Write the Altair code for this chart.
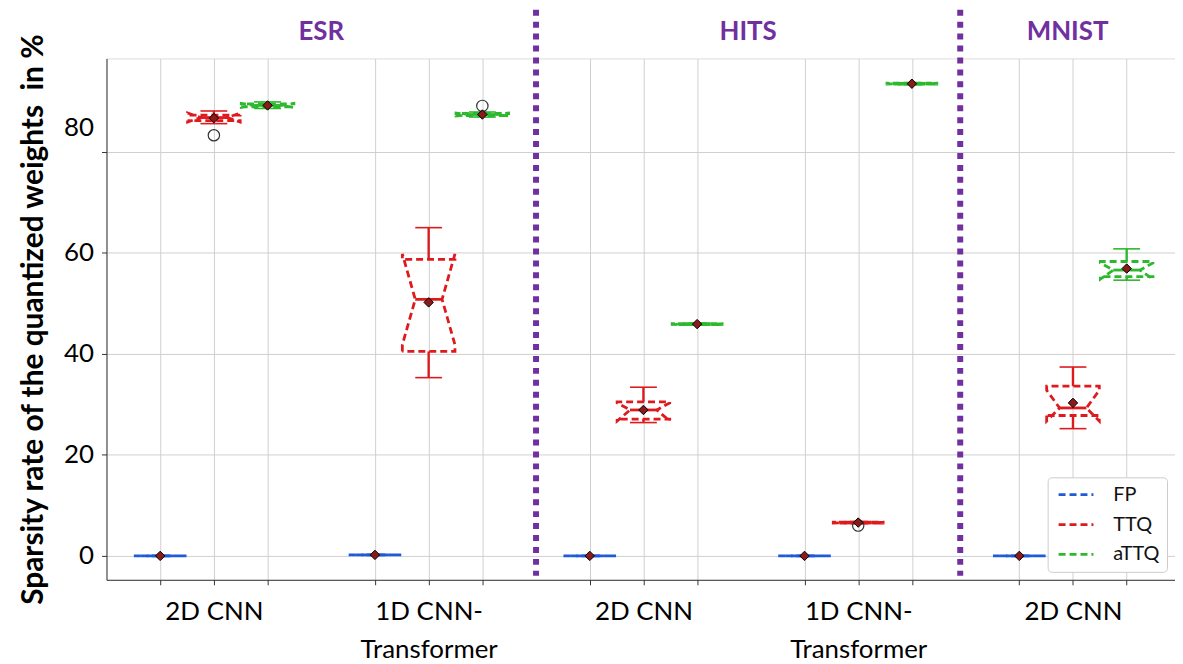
import altair as alt
import pandas as pd

# ---------------- data ----------------
datasets = ["ESR", "HITS", "MNIST"]
group_names = ["2D CNN", "1D CNN-\nTransformer", "2D CNN", "1D CNN-\nTransformer", "2D CNN"]
methods = ["FP", "TTQ", "aTTQ"]
colors = ["#1f5bd8", "#de1a1f", "#2db82d"]

# one entry per box, group-major (5 groups x 3 methods)
box_group = [0, 0, 0, 1, 1, 1, 2, 2, 2, 3, 3, 3, 4, 4, 4]
box_method = ["FP", "TTQ", "aTTQ"] * 5
whislo = [0.0, 85.6, 88.6, 0.2, 35.3, 86.9, 0.0, 26.4, 45.7, 0.0, 6.4, 93.3, 0.0, 25.2, 54.6]
q1 = [0.0, 86.2, 88.9, 0.2, 40.5, 87.2, 0.0, 27.1, 45.8, 0.0, 6.5, 93.4, 0.0, 27.8, 55.3]
notch_lo = [0.0, 85.9, 88.8, 0.2, 41.8, 87.1, 0.0, 26.7, 45.8, 0.0, 6.5, 93.4, 0.0, 26.7, 54.8]
median = [0.0, 86.8, 89.2, 0.2, 50.8, 87.4, 0.0, 28.9, 45.9, 0.0, 6.6, 93.5, 0.0, 29.3, 56.6]
notch_hi = [0.0, 87.7, 89.6, 0.2, 59.8, 87.7, 0.0, 30.3, 46.0, 0.0, 6.7, 93.6, 0.0, 32.8, 58.0]
q3 = [0.0, 87.3, 89.5, 0.2, 58.7, 87.6, 0.0, 30.5, 46.0, 0.0, 6.7, 93.6, 0.0, 33.6, 58.3]
whishi = [0.0, 88.1, 89.9, 0.2, 65.0, 87.9, 0.0, 33.4, 46.1, 0.0, 6.8, 93.7, 0.0, 37.4, 60.8]
means = [0.0, 86.7, 89.2, 0.2, 50.2, 87.4, 0.0, 28.9, 45.9, 0.0, 6.6, 93.5, 0.0, 30.3, 56.9]
outlier_box = [1, 5, 10]
outlier_value = [83.3, 89.1, 6.0]

y_ticks = [0, 20, 40, 60, 80]
y_title = "Sparsity rate of the quantized weights\u00a0 in %"

# ---------------- layout constants ----------------
GROUP_STEP = 4
BOX_HALF = 0.49
NOTCH_HALF = 0.25
CAP_HALF = 0.25
X_DOMAIN = [-1, 18.9]
Y_DOMAIN = [-4.73, 98.5]
sep_positions = [7, 14.9]
title_positions = [3, 10.95, 16.9]
PURPLE = "#7030a0"

positions = [GROUP_STEP * g + methods.index(m) for g, m in zip(box_group, box_method)]

stats = pd.DataFrame({
    "pos": positions, "method": box_method,
    "whislo": whislo, "q1": q1, "nlo": notch_lo, "med": median,
    "nhi": notch_hi, "q3": q3, "whishi": whishi, "mean": means,
})
stats["capl"] = stats["pos"] - CAP_HALF
stats["capr"] = stats["pos"] + CAP_HALF
stats["ml"] = stats["pos"] - NOTCH_HALF
stats["mr"] = stats["pos"] + NOTCH_HALF

rows = []
for i, r in stats.iterrows():
    c = r["pos"]
    verts = [
        (c - BOX_HALF, r["q1"]), (c - BOX_HALF, r["nlo"]), (c - NOTCH_HALF, r["med"]),
        (c - BOX_HALF, r["nhi"]), (c - BOX_HALF, r["q3"]), (c + BOX_HALF, r["q3"]),
        (c + BOX_HALF, r["nhi"]), (c + NOTCH_HALF, r["med"]), (c + BOX_HALF, r["nlo"]),
        (c + BOX_HALF, r["q1"]), (c - BOX_HALF, r["q1"]),
    ]
    for k, (vx, vy) in enumerate(verts):
        rows.append({"box": i, "method": r["method"], "x": vx, "y": vy, "k": k})
path_df = pd.DataFrame(rows)

out_df = pd.DataFrame({
    "pos": [positions[b] for b in outlier_box],
    "value": outlier_value,
})
sep_df = pd.DataFrame({"pos": sep_positions})
title_df = pd.DataFrame({"pos": title_positions, "name": datasets})

# x-axis label expression from group names
parts = []
for g, name in enumerate(group_names):
    arr = "[" + ",".join("'" + s + "'" for s in name.split("\n")) + "]"
    parts.append(f"datum.value == {GROUP_STEP * g + 1} ? {arr} : ")
label_expr = "".join(parts) + "''"

xscale = alt.Scale(domain=X_DOMAIN, nice=False, zero=False)
yscale = alt.Scale(domain=Y_DOMAIN, nice=False, zero=False)
cscale = alt.Scale(domain=methods, range=colors)

x_axis = alt.Axis(
    values=sorted(positions), labelExpr=label_expr, title=None, grid=True,
    gridColor="#d0d0d0", tickSize=5, tickColor="#333", domainColor="#333",
    labelFont="Lato", labelFontSize=26, labelColor="black", labelPadding=14,
    labelLineHeight=38, labelOverlap=False, labelBound=False, labelFlush=False,
)
y_axis = alt.Axis(
    values=y_ticks, title=y_title, grid=True, gridColor="#d0d0d0",
    tickSize=5, tickColor="#333", domainColor="#333",
    labelFont="Lato", labelFontSize=26, labelColor="black", labelPadding=8,
    labelOffset=alt.condition("datum.value == 80", alt.value(-24), alt.value(0)),
    titleFont="Lato", titleFontSize=30, titleFontWeight="bold", titleColor="black",
    titlePadding=15,
)

box = alt.Chart(path_df).mark_line(strokeWidth=2.8, strokeDash=[7, 4]).encode(
    x=alt.X("x:Q", scale=xscale, axis=x_axis),
    y=alt.Y("y:Q", scale=yscale, axis=y_axis),
    color=alt.Color("method:N", scale=cscale, sort=methods, legend=alt.Legend(
        title=None, orient="bottom-right", offset=8, fillColor="white",
        strokeColor="#cccccc", cornerRadius=4, padding=7,
        labelFont="Lato", labelFontSize=20, labelColor="#111",
        symbolType="M-2,0L2,0", symbolSize=306, symbolStrokeWidth=2.8,
        symbolDash=[7, 4], symbolOffset=11, labelOffset=27, rowPadding=9,
    )),
    detail="box:N",
    order="k:Q",
)

base = alt.Chart(stats)
nolegend = alt.Color("method:N", scale=cscale, legend=None)

whisk_hi = base.mark_rule(strokeWidth=2.4).encode(
    x=alt.X("pos:Q", scale=xscale), y=alt.Y("q3:Q", scale=yscale), y2="whishi:Q", color=nolegend)
whisk_lo = base.mark_rule(strokeWidth=2.4).encode(
    x=alt.X("pos:Q", scale=xscale), y=alt.Y("q1:Q", scale=yscale), y2="whislo:Q", color=nolegend)
cap_hi = base.mark_rule(strokeWidth=1.6).encode(
    x=alt.X("capl:Q", scale=xscale), x2="capr:Q", y=alt.Y("whishi:Q", scale=yscale), color=nolegend)
cap_lo = base.mark_rule(strokeWidth=1.6).encode(
    x=alt.X("capl:Q", scale=xscale), x2="capr:Q", y=alt.Y("whislo:Q", scale=yscale), color=nolegend)
med = base.mark_rule(strokeWidth=2.8).encode(
    x=alt.X("ml:Q", scale=xscale), x2="mr:Q", y=alt.Y("med:Q", scale=yscale), color=nolegend)
mean_pts = base.mark_point(shape="diamond", filled=True, fill="#8b1a1a", stroke="black",
                           strokeWidth=1, size=90, opacity=1).encode(
    x=alt.X("pos:Q", scale=xscale), y=alt.Y("mean:Q", scale=yscale))
outliers = alt.Chart(out_df).mark_point(shape="circle", filled=False, stroke="#333",
                                        strokeWidth=1.2, size=130, opacity=1).encode(
    x=alt.X("pos:Q", scale=xscale), y=alt.Y("value:Q", scale=yscale))

seps = alt.Chart(sep_df).mark_rule(color=PURPLE, strokeWidth=6, strokeDash=[6, 6]).encode(
    x=alt.X("pos:Q", scale=xscale), y=alt.value(-49), y2=alt.value(520))
titles = alt.Chart(title_df).mark_text(font="Lato", fontSize=26, fontWeight="bold",
                                       color=PURPLE, baseline="middle").encode(
    x=alt.X("pos:Q", scale=xscale), y=alt.value(-27), text="name:N")

chart = alt.layer(
    box, whisk_hi, whisk_lo, cap_hi, cap_lo, med, outliers, mean_pts, seps, titles
).properties(
    width=1074, height=524,
    padding={"left": 99, "top": 49, "right": 0, "bottom": 100},
    autosize=alt.AutoSizeParams(type="none"),
).configure_view(stroke="#333", strokeWidth=1).configure(font="Lato")

chart.save("out.html", embed_options={"renderer": "svg", "actions": False})
